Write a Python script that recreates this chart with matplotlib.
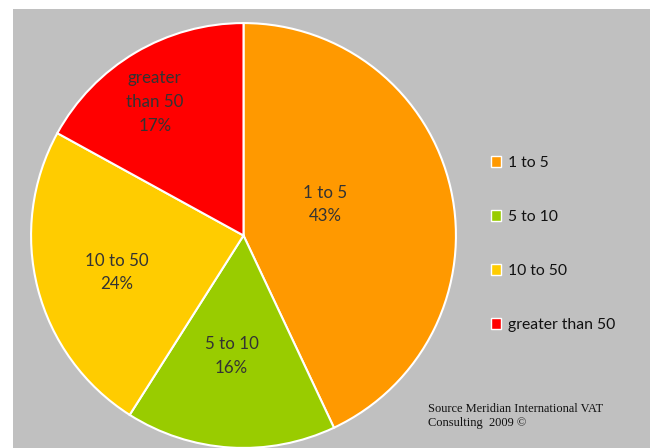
import matplotlib.pyplot as plt
from matplotlib.patches import Rectangle, Patch

# shares of businesses by number of countries
categories = ["1 to 5", "5 to 10", "10 to 50", "greater than 50"]
slice_labels = ["1 to 5", "5 to 10", "10 to 50", "greater\nthan 50"]
shares = [43, 16, 24, 17]
colors = ["#FF9900", "#99CC00", "#FFCC00", "#FF0000"]

# label spots inside each wedge (pie units)
label_xy = [(0.385, 0.146), (-0.056, -0.568), (-0.596, -0.174), (-0.418, 0.629)]

plt.rcParams['font.family'] = ['Lato', 'DejaVu Sans']

fig = plt.figure(figsize=(6.53, 4.48), dpi=100)
fig.patch.set_facecolor("white")
fig.patches.append(Rectangle((13 / 653, 0), 637 / 653, 439 / 448,
                             transform=fig.transFigure, facecolor="#C0C0C0",
                             edgecolor="none", zorder=-5))

ax = fig.add_axes([30 / 653, -1 / 448, 427 / 653, 427 / 448])
ax.set_zorder(1)
ax.set_facecolor("none")
wedges, _ = ax.pie(shares, colors=colors, startangle=90, counterclock=False,
                   radius=1.0, wedgeprops=dict(edgecolor="white", linewidth=1.5))
ax.set_xlim(-1.005, 1.005)
ax.set_ylim(-1.005, 1.005)
ax.set_aspect("equal")

for lab, val, (x, y) in zip(slice_labels, shares, label_xy):
    ax.text(x, y, f"{lab}\n{val}%", ha="center", va="center", fontsize=12.2,
            color="#333333", linespacing=1.6)

handles = [Patch(facecolor=c, edgecolor="white", linewidth=1) for c in colors]
fig.legend(handles, categories, loc="center left", bbox_to_anchor=(0.73, 0.455),
           frameon=False, fontsize=11.3, handlelength=0.65, handleheight=0.65,
           handletextpad=0.45, labelspacing=2.55, labelcolor="#111111")

fig.text(428 / 653, 1 - 416 / 448, "Source Meridian International VAT\nConsulting  2009 \u00a9",
         family="Liberation Serif", fontsize=8.9, va="center", ha="left",
         linespacing=1.25, color="#111111")

fig.savefig("out.png", dpi=100, facecolor=fig.get_facecolor())
